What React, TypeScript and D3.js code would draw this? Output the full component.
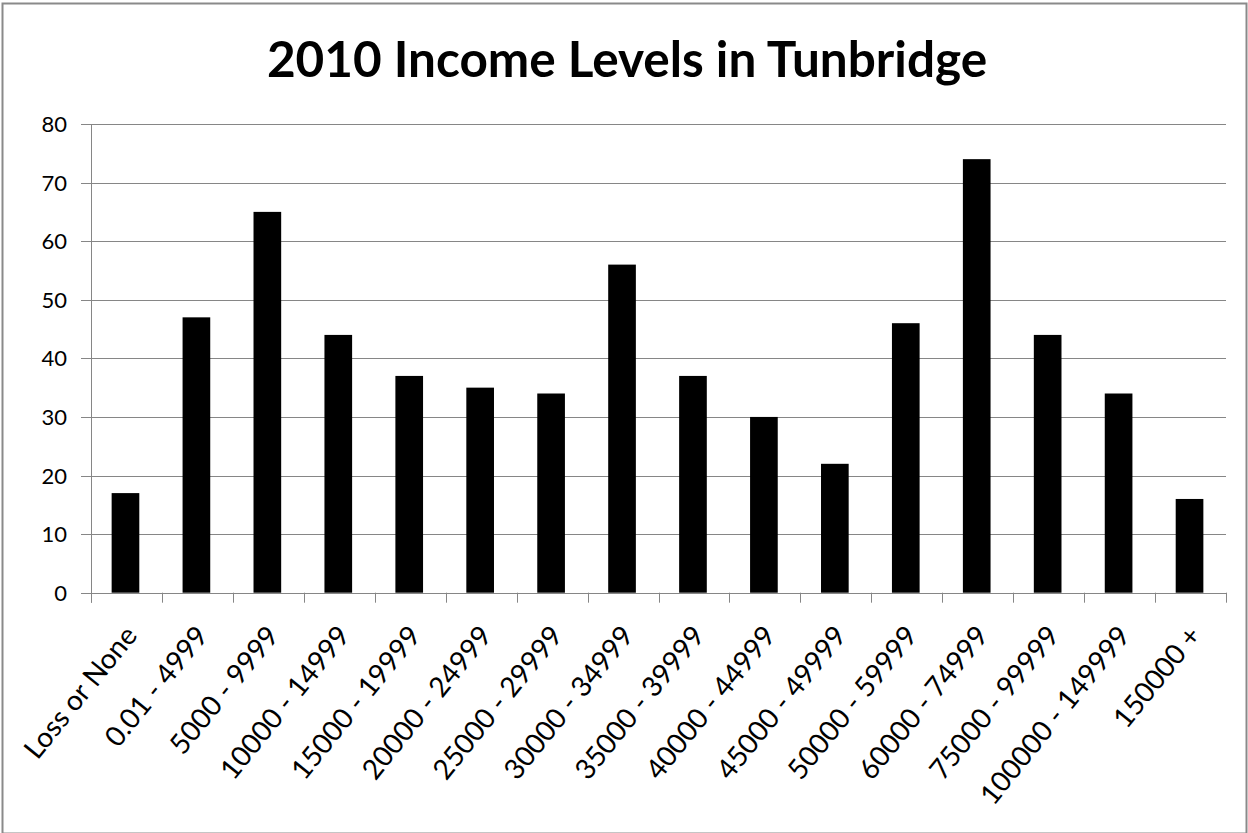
import React from "react";
import * as d3 from "d3";

const categories = [
  "Loss or None", "0.01 - 4999", "5000 - 9999", "10000 - 14999", "15000 - 19999",
  "20000 - 24999", "25000 - 29999", "30000 - 34999", "35000 - 39999", "40000 - 44999",
  "45000 - 49999", "50000 - 59999", "60000 - 74999", "75000 - 99999", "100000 - 149999",
  "150000 +",
];
const values = [17, 47, 65, 44, 37, 35, 34, 56, 37, 30, 22, 46, 74, 44, 34, 16];
const yTicks = [0, 10, 20, 30, 40, 50, 60, 70, 80];
const title = "2010 Income Levels in Tunbridge";

const W = 1248, H = 833;
const left = 91, right = 1226, top = 124, bottom = 592.7;
const FONT = "Lato, Carlito, 'Open Sans', sans-serif";
const GRID = "#868686";

export default function App() {
  const x = d3.scaleBand<string>().domain(categories).range([left, right]).padding(0);
  const y = d3.scaleLinear().domain([0, 80]).range([bottom, top]);
  const bw = x.bandwidth();
  const barW = bw * 0.39;
  const boundaries = d3.range(categories.length + 1).map((i) => left + i * bw);

  return (
    <svg width={W} height={H} style={{ position: "absolute", left: 0, top: 0, background: "#fff" }}>
      <rect x={0} y={0} width={W} height={H} fill="#fff" />
      <rect x={2.5} y={3.5} width={W - 4} height={H - 3} fill="none" stroke="#8a8a8a" strokeWidth={2} />
      <text x={627} y={77} textAnchor="middle" fontFamily={FONT} fontWeight={700} fontSize={49.5} fill="#000">
        {title}
      </text>
      {yTicks.map((t) => (
        <g key={t}>
          <line x1={left - 10} x2={right} y1={Math.round(y(t)) + 0.5} y2={Math.round(y(t)) + 0.5} stroke={GRID} strokeWidth={1} />
          <text x={67} y={y(t) + 8} textAnchor="end" fontFamily={FONT} fontSize={22} fill="#000">
            {t}
          </text>
        </g>
      ))}
      <line x1={left + 0.5} x2={left + 0.5} y1={top} y2={bottom + 10} stroke={GRID} strokeWidth={1} />
      {boundaries.map((bx, i) => (
        <line key={i} x1={Math.round(bx) + 0.5} x2={Math.round(bx) + 0.5} y1={bottom} y2={bottom + 10} stroke={GRID} strokeWidth={1} />
      ))}
      {categories.map((c, i) => {
        const cx = (x(c) as number) + bw / 2;
        return (
          <rect key={c} x={cx - barW / 2 - 1} y={y(values[i])} width={barW} height={bottom - y(values[i])} fill="#000" />
        );
      })}
      {categories.map((c) => {
        const cx = (x(c) as number) + bw / 2;
        return (
          <text
            key={c}
            transform={`translate(${cx + 12},${636}) rotate(-51)`}
            textAnchor="end"
            fontFamily={FONT}
            fontSize={28}
            fill="#000"
          >
            {c}
          </text>
        );
      })}
    </svg>
  );
}
